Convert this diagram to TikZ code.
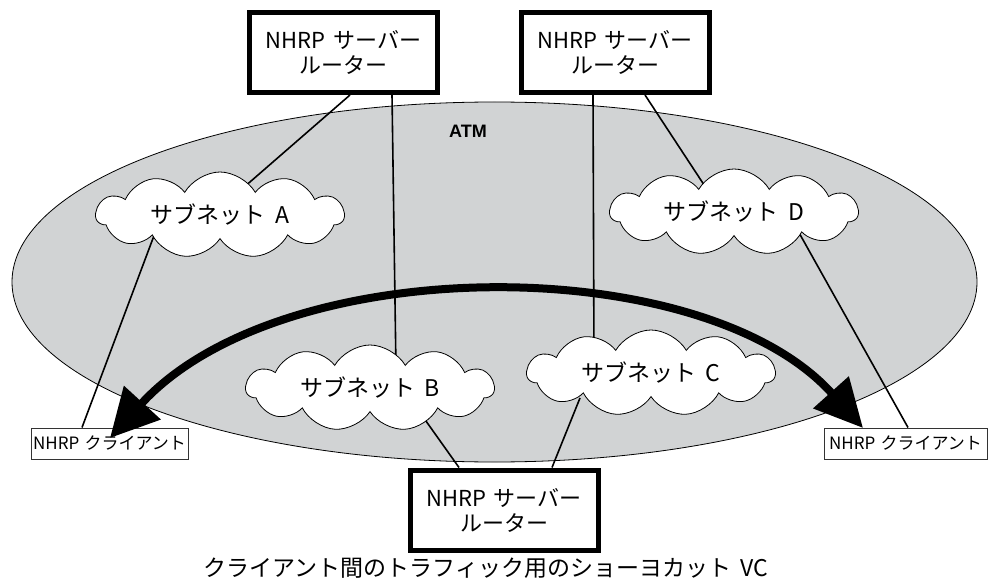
\documentclass[tikz,border=0pt]{standalone}
\usepackage{fontspec}
\setmainfont{Noto Sans CJK JP}
\newfontfamily\atmfont{Liberation Sans}
\usetikzlibrary{shapes.symbols}
\usetikzlibrary{arrows.meta}
\usetikzlibrary{calc}
\definecolor{atmgray}{RGB}{209,211,212}
\pgfdeclarelayer{back}
\pgfsetlayers{back,main}

\begin{document}
\begin{tikzpicture}[x=1pt,y=-1pt,
        server/.style={draw, line width=5pt, fill=white, align=center, inner sep=0pt,
          minimum width=188pt, minimum height=80pt, font=\fontsize{22}{25}\selectfont},
        subnet/.style={draw, cloud, cloud puffs=11, cloud puff arc=120, cloud ignores aspect,
          fill=white, line width=0.8pt, inner sep=0pt,
          minimum width=248pt, minimum height=86pt, font=\fontsize{23}{26}\selectfont},
        client/.style={draw=black!80, line width=1pt, fill=white, inner sep=0pt,
          minimum width=157pt, minimum height=31pt, font=\fontsize{17}{19}\selectfont},
        link/.style={line width=1.6pt}]
        \useasboundingbox (0,0) rectangle (990,588);
        %
        \begin{pgfonlayer}{back}
          \draw [fill=atmgray, line width=0.8pt] (494.5,282) ellipse [x radius=482.5pt, y radius=180pt];
        \end{pgfonlayer}
        \node [font=\atmfont\bfseries\fontsize{18}{20}\selectfont] (atm) at (468,131) {ATM};
        %
        \node [server] (srvL) at (343.5,52.5) {NHRP\hspace{0.35em}サーバー\\ルーター};
        \node [server] (srvR) at (615,52.5) {NHRP\hspace{0.35em}サーバー\\ルーター};
        \node [server] (srvB) at (504,510) {NHRP\hspace{0.35em}サーバー\\ルーター};
        %
        \node [subnet] (netA) at (220,215) {サブネット\hspace{0.4em}A};
        \node [subnet] (netD) at (734,212) {サブネット\hspace{0.4em}D};
        \node [subnet] (netB) at (370,388) {サブネット\hspace{0.4em}B};
        \node [subnet] (netC) at (651,373) {サブネット\hspace{0.4em}C};
        %
        \node [client] (cliL) at (109.5,443.5) {NHRP\hspace{0.3em}クライアント};
        \node [client, minimum width=163pt] (cliR) at (905.5,443.5) {NHRP\hspace{0.3em}クライアント};
        %
        \begin{pgfonlayer}{back}
          \draw [link] ($(srvL.south)+(6.5,0)$) -- ($(netA)+(15,-20)$);
          \draw [link] ($(srvL.south)+(48.5,0)$) -- ($(netB)+(26,-18)$);
          \draw [link] ($(srvR.south)+(-22,0)$) -- ($(netC)+(-57,-11)$);
          \draw [link] ($(srvR.south)+(30,0)$) -- ($(netD)+(-22,-15)$);
          \draw [link] ($(netA)+(-62,10)$) -- ($(cliL.north)+(-27.5,0)$);
          \draw [link] ($(netD)+(59,10)$) -- ($(cliR.north)+(2.5,0)$);
          \draw [link] ($(netB)+(41,12)$) -- ($(srvB.north)+(-45,0)$);
          \draw [link] ($(netC)+(-71,25)$) -- ($(srvB.north)+(48,0)$);
        \end{pgfonlayer}
        %
        \coordinate (tipL) at (110,438);
        \coordinate (tipR) at (863,428);
        \draw [line width=8pt, {Triangle[length=48pt,width=48pt]}-{Triangle[length=48pt,width=46pt]}]
        (tipL) .. controls (282,250) and (703,250) .. (tipR);
        %
        \node [font=\fontsize{23}{26}\selectfont] (caption) at (486,568)
        {クライアント間のトラフィック用のショーヨカット\hspace{0.4em}VC};
      \end{tikzpicture}
\end{document}
